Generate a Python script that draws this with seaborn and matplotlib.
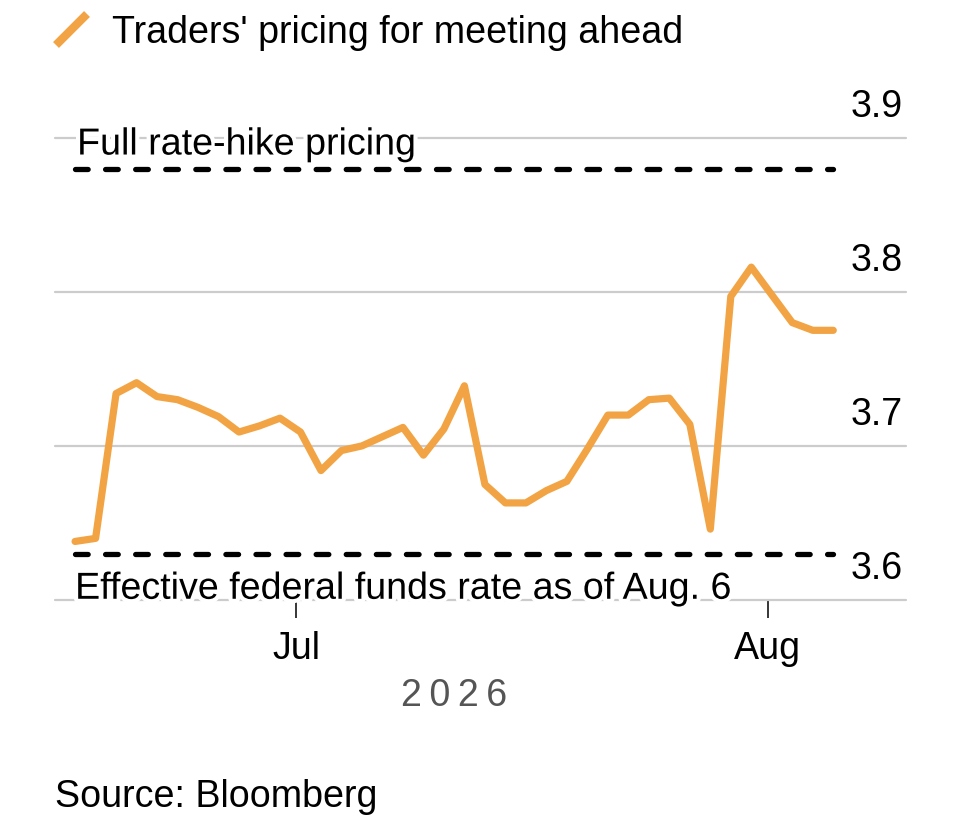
import numpy as np
import pandas as pd
import matplotlib
matplotlib.use("Agg")
import matplotlib.pyplot as plt
import matplotlib.patheffects as pe
from matplotlib.lines import Line2D
import seaborn as sns

# trading days shown on the chart
dates = pd.bdate_range("2026-06-16", "2026-08-06")
pricing = [3.638, 3.640, 3.734, 3.741, 3.732, 3.730, 3.725, 3.719, 3.709, 3.713,
           3.718, 3.709, 3.684, 3.697, 3.700, 3.706, 3.712, 3.694, 3.711, 3.739,
           3.675, 3.663, 3.663, 3.671, 3.677, 3.698, 3.720, 3.720, 3.730, 3.731,
           3.714, 3.646, 3.797, 3.816, 3.798, 3.780, 3.775, 3.775]
full_hike = 3.88
effr = 3.63
yticks = [3.6, 3.7, 3.8, 3.9]
ytick_labels = ["3.6", "3.7", "3.8", "3.9"]
month_starts = ["2026-07-01", "2026-08-01"]
month_labels = ["Jul", "Aug"]

ORANGE = "#F2A444"
W, H = 960, 834
FS = 27.1

sns.set_theme(style="white")
plt.rcParams["font.family"] = ["Liberation Sans", "DejaVu Sans"]

df = pd.DataFrame({"date": dates, "pricing": pricing})
df["pos"] = np.arange(len(df))

fig = plt.figure(figsize=(W / 100, H / 100), dpi=100)
ax = fig.add_axes([55 / W, 1 - 600 / H, 851 / W, 462.3 / H])

# horizontal gridlines
for v in yticks:
    ax.axhline(v, color="#cccccc", lw=1.6, clip_on=False, zorder=1)

sns.lineplot(data=df, x="pos", y="pricing", ax=ax, color=ORANGE, lw=5.2,
             solid_joinstyle="round", solid_capstyle="round", zorder=4)

halo = [pe.withStroke(linewidth=6, foreground="white")]
x0, x1 = df["pos"].min(), df["pos"].max()
for lvl in (full_hike, effr):
    ax.plot([x0, x1], [lvl, lvl], color="black", lw=3.8,
            linestyle=(0, (2.4, 3.3)), dash_capstyle="round", zorder=3)

ax.annotate("Full rate-hike pricing", xy=(x0, full_hike), xytext=(2, 14),
            textcoords="offset pixels", ha="left", va="baseline",
            fontsize=FS, color="black", path_effects=halo, zorder=5)
ax.annotate("Effective federal funds rate as of Aug. 6", xy=(x0, effr),
            xytext=(0, -45), textcoords="offset pixels", ha="left",
            va="baseline", fontsize=FS, color="black", path_effects=halo,
            zorder=5)

# y labels sit above their gridlines on the right
for v, lab in zip(yticks, ytick_labels):
    ax.annotate(lab, xy=(1, v), xycoords=("axes fraction", "data"),
                xytext=(-3, 21), textcoords="offset pixels", ha="right",
                va="baseline", fontsize=FS, color="black")

ax.set_xlim(-0.98, 40.55)
ax.set_ylim(3.6, 3.9)
ax.set_yticks([])

# month ticks: first trading day of each month, at midnight (before the close)
tick_pos = [df.index[df["date"] >= pd.Timestamp(m)][0] - 0.2 for m in month_starts]
ax.set_xticks(tick_pos)
ax.set_xticklabels(month_labels, fontsize=FS, color="black")
ax.tick_params(axis="x", direction="out", length=13, width=1.1, color="black",
               pad=9, bottom=True)
ax.set_xlabel("")
ax.set_ylabel("")
for s in ax.spines.values():
    s.set_visible(False)

ax.annotate("2\u20090\u20092\u20096", xy=((x0 + x1) / 2, 0),
            xycoords=("data", "axes fraction"), xytext=(0, -106),
            textcoords="offset pixels", ha="center", va="baseline",
            fontsize=FS, color="#555555")

# legend
fig.add_artist(Line2D([56 / W, 87 / W], [1 - 45 / H, 1 - 14 / H],
                      color=ORANGE, lw=6, solid_capstyle="butt"))
fig.text(112 / W, 1 - 42.7 / H, "Traders' pricing for meeting ahead",
         fontsize=FS, va="baseline", ha="left", color="black")

fig.text(55 / W, 1 - 807 / H, "Source: Bloomberg", fontsize=FS,
         va="baseline", ha="left", color="black")

fig.savefig("out.png", dpi=100)
